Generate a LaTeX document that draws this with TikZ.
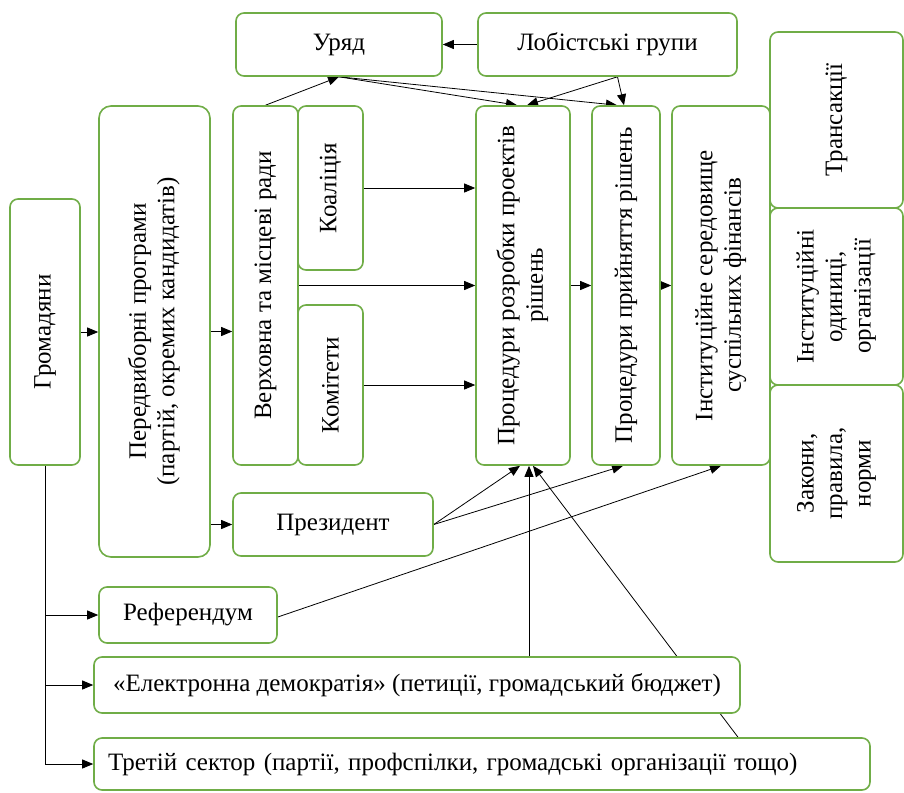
\documentclass[tikz,border=0pt]{standalone}
\usepackage{fontspec}
\setmainfont{Liberation Serif}
\usetikzlibrary{arrows.meta}
\definecolor{grn}{HTML}{70AD47}
\pgfdeclarelayer{background}
\pgfsetlayers{background,main}
\begin{document}
\begin{tikzpicture}[x=1pt,y=-1pt,
  box/.style={draw=grn,line width=1.6pt,fill=white,rounded corners=8pt,inner sep=0pt,align=center,
    font=\fontsize{25}{28.5}\selectfont},
  arr/.style={draw=black,line width=0.8pt,-{Triangle[length=11pt,width=9pt]}},
  ln/.style={draw=black,line width=0.8pt}]
\useasboundingbox (0,0) rectangle (904,792);
% boxes
\node[box,minimum width=206pt,minimum height=63pt] (ur) at (339,44.5) {Уряд};
\node[box,minimum width=259pt,minimum height=63pt] (lob) at (607.5,44.5) {Лобістські групи};
\node[box,minimum width=70pt,minimum height=266pt] (hrom) at (45,332) {\rotatebox{90}{Громадяни}};
\node[box,minimum width=111pt,minimum height=451pt,rounded corners=12pt] (pered) at (154.5,331.5)
  {\rotatebox{90}{\begin{tabular}{@{}c@{}}Передвиборні програми\\(партій, окремих кандидатів)\end{tabular}}};
\node[box,minimum width=65pt,minimum height=359pt] (verkh) at (265.5,285.5) {\rotatebox{90}{Верховна та місцеві ради}};
\node[box,minimum width=65pt,minimum height=164pt] (koal) at (330.5,188) {\rotatebox{90}{Коаліція}};
\node[box,minimum width=65pt,minimum height=160pt] (komit) at (330.5,385) {\rotatebox{90}{Комітети}};
\node[box,minimum width=94pt,minimum height=359pt] (rozr) at (523,285.5)
  {\rotatebox{90}{\begin{tabular}{@{}c@{}}Процедури розробки проектів\\рішень\end{tabular}}};
\node[box,minimum width=68pt,minimum height=359pt] (pryin) at (626,285.5) {\rotatebox{90}{Процедури прийняття рішень}};
\node[box,minimum width=98pt,minimum height=359pt] (inst) at (721,285.5)
  {\rotatebox{90}{\begin{tabular}{@{}c@{}}Інституційне середовище\\суспільних фінансів\end{tabular}}};
\node[box,minimum width=133pt,minimum height=176pt] (trans) at (836.5,120) {\rotatebox{90}{Трансакції}};
\node[box,minimum width=133pt,minimum height=177pt] (instu) at (836.5,296.5)
  {\rotatebox{90}{\begin{tabular}{@{}c@{}}Інституційні\\одиниці,\\організації\end{tabular}}};
\node[box,minimum width=133pt,minimum height=177pt] (zak) at (836.5,473.5)
  {\rotatebox{90}{\begin{tabular}{@{}c@{}}Закони,\\правила,\\норми\end{tabular}}};
\node[box,minimum width=200pt,minimum height=63pt] (prez) at (333,524.5) {Президент};
\node[box,minimum width=178pt,minimum height=56pt] (ref) at (188,615) {Референдум};
\node[box,minimum width=646pt,minimum height=56pt] (edem) at (417,685) {«Електронна демократія» (петиції, громадський бюджет)};
\node[box,minimum width=776pt,minimum height=52pt,text width=748pt,align=left] (tret) at (482,764) {Третій сектор (партії, профспілки, громадські організації тощо)};
% connectors
\begin{pgfonlayer}{background}
\draw[arr] (hrom.east) -- (hrom.east -| pered.west);
\draw[arr] (pered.east) -- (pered.east -| verkh.west);
\draw[arr] (prez.west -| pered.east) -- (prez.west);
\draw[arr] (verkh.north) -- (ur.south);
\draw[arr] (lob.west) -- (ur.east);
\draw[arr] (ur.south) -- ([xshift=-6pt]rozr.north);
\draw[arr] (ur.south) -- ([xshift=-9pt]pryin.north);
\draw[arr] ([xshift=10pt]lob.south) -- ([xshift=4pt]rozr.north);
\draw[arr] ([xshift=10pt]lob.south) -- ([xshift=-2pt]pryin.north);
\draw[arr] (koal.east) -- (koal.east -| rozr.west);
\draw[arr] (verkh.east) -- (verkh.east -| rozr.west);
\draw[arr] (komit.east) -- (komit.east -| rozr.west);
\draw[arr] (rozr.east) -- (pryin.west);
\draw[arr] (pryin.east) -- (inst.west);
\draw[arr] (prez.east) -- ([xshift=-3pt]rozr.south);
\draw[arr] (prez.east) -- ([xshift=-3pt]pryin.south);
\draw[arr] ([yshift=-2pt]ref.east) -- (inst.south);
\coordinate (rzb) at ([xshift=6pt]rozr.south);
\draw[arr] (rzb |- edem.north) -- (rzb);
\draw[arr] ([xshift=256pt]tret.north) -- ([xshift=10pt]rozr.south);
\draw[arr] (hrom.south) |- (tret.west);
\draw[arr] (hrom.south |- ref.west) -- (ref.west);
\draw[arr] (hrom.south |- edem.west) -- (edem.west);
\end{pgfonlayer}
\end{tikzpicture}
\end{document}
